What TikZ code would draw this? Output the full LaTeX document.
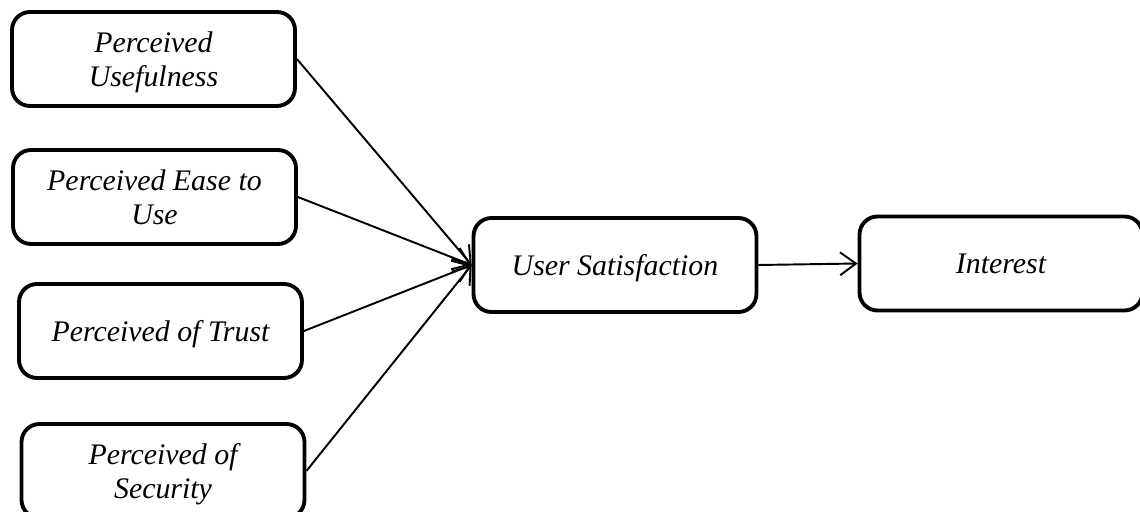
\documentclass[tikz,border=0pt]{standalone}
\usepackage{fontspec}
\setmainfont{Liberation Serif}
\usepackage{tikz}
\usetikzlibrary{arrows.meta}

\begin{document}
\begin{tikzpicture}[x=0.02cm,y=0.02cm,
   box/.style={draw,line width=2.2pt,rounded corners=0.36cm,minimum width=5.66cm,minimum height=1.88cm,align=center,text depth=-2pt,font=\fontsize{17}{19}\selectfont\itshape},
   arr/.style={line width=1.1pt,-{Straight Barb[length=9pt,width=13pt,line width=1.1pt]}}]
   \def\w{1140} % picture width
   \def\h{511} % picture height
   \useasboundingbox (0,0) rectangle (\w,\h);
   % left column, four factors
   \node[box] (pu) at (153.5,452) {Perceived\\Usefulness};
   \node[box] (pe) at (154.5,314) {Perceived Ease to\\Use};
   \node[box] (pt) at (160.5,180) {Perceived of Trust};
   \node[box] (ps) at (163,40) {Perceived of\\Security}; % runs off the bottom
   % middle and right
   \node[box] (us) at (615,246) {User Satisfaction};
   \node[box] (in) at (1001,247.5) {Interest};
   % arrows into user satisfaction
   \foreach \n in {pu,pe,pt,ps}
   \draw[arr] (\n.east) -- (us.west);
   \draw[arr] (us.east) -- (in.west);
\end{tikzpicture}
\end{document}
